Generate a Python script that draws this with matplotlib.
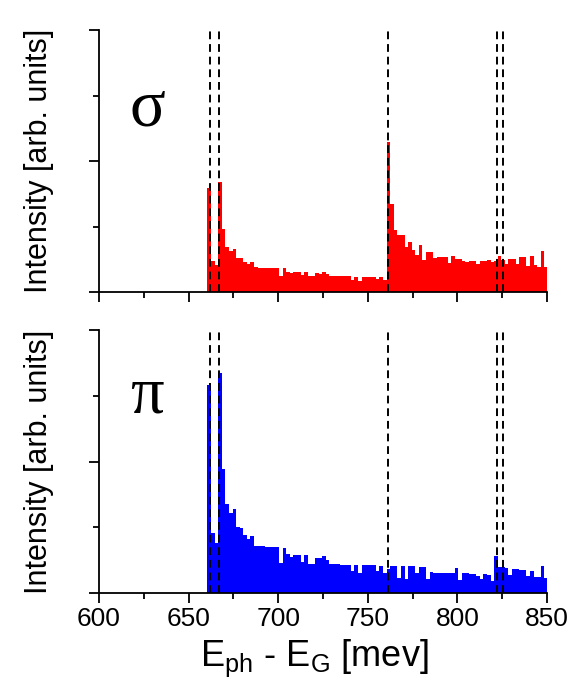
import numpy as np
import matplotlib
matplotlib.use("Agg")
import matplotlib.pyplot as plt
from matplotlib.ticker import MultipleLocator

# Histogrammes : bins de 2 meV à partir de 660.5 meV
bin_start = 660.5
bin_width = 2.0

sigma_counts = [104, 31, 27, 110, 63, 45, 41, 43, 34, 34,
                30, 28, 30, 25, 24, 24, 24, 24, 24, 24,
                16, 24, 20, 19, 20, 20, 17, 20, 16, 16,
                19, 18, 20, 18, 16, 16, 16, 16, 16, 16,
                12, 15, 11, 15, 15, 15, 15, 13, 15, 12,
                150, 88, 62, 57, 57, 45, 50, 42, 37, 47,
                32, 40, 40, 34, 35, 35, 35, 29, 36, 33,
                33, 31, 30, 31, 31, 28, 31, 31, 32, 30,
                31, 36, 32, 28, 33, 33, 28, 35, 35, 26,
                36, 27, 25, 41, 25]

pi_counts = [207, 60, 50, 219, 124, 89, 80, 84, 66, 65,
             58, 54, 57, 47, 47, 47, 46, 46, 46, 46,
             30, 45, 39, 36, 38, 38, 31, 38, 29, 29,
             35, 35, 37, 33, 29, 29, 29, 28, 28, 28,
             22, 28, 20, 28, 28, 28, 28, 22, 27, 20,
             24, 27, 27, 15, 27, 14, 27, 27, 20, 26,
             26, 14, 21, 20, 20, 20, 20, 20, 20, 25,
             13, 20, 20, 19, 19, 17, 14, 19, 18, 12,
             37, 26, 26, 25, 18, 24, 24, 23, 23, 17,
             22, 16, 16, 27, 15]

# positions des transitions (lignes pointillées)
transitions = [662.0, 667.0, 761.5, 822.0, 825.5]

x_ticks = [600, 650, 700, 750, 800, 850]
y_max = 262

plt.rcParams['font.family'] = ['Liberation Sans', 'DejaVu Sans']
plt.rcParams['mathtext.fontset'] = 'custom'
plt.rcParams['mathtext.rm'] = 'Liberation Sans'

fig = plt.figure(figsize=(5.72, 6.81), dpi=100)
ax1 = fig.add_axes([0.1731, 0.5712, 0.7832, 0.3847])
ax2 = fig.add_axes([0.1731, 0.1292, 0.7832, 0.3862])

edges = bin_start + bin_width * np.arange(len(sigma_counts))

for ax, counts, color, symbol, sy in [(ax1, sigma_counts, "#ff0000", "σ", 0.70),
                                      (ax2, pi_counts, "#0000ff", "π", 0.75)]:
    ax.bar(edges, counts, width=bin_width, align="edge", color=color, linewidth=0)
    for t in transitions:
        ax.axvline(t, color="black", linestyle=(0, (4, 2.5)), linewidth=1.4, zorder=3)
    ax.set_xlim(600, 850)
    ax.set_ylim(0, y_max)
    ax.spines['top'].set_visible(False)
    ax.spines['right'].set_visible(False)
    ax.spines['left'].set_linewidth(1.3)
    ax.spines['bottom'].set_linewidth(1.3)
    ax.set_xticks(x_ticks)
    ax.xaxis.set_minor_locator(MultipleLocator(25))
    ax.yaxis.set_major_locator(MultipleLocator(y_max / 2))
    ax.yaxis.set_minor_locator(MultipleLocator(y_max / 4))
    ax.tick_params(which="major", direction="out", length=7, width=1.3, labelsize=19, pad=3)
    ax.tick_params(which="minor", direction="out", length=4, width=1.3)
    ax.set_yticklabels([])
    ax.set_ylabel("Intensity [arb. units]", fontsize=22)
    ax.yaxis.set_label_coords(-0.10, 0.5)
    ax.text(0.107, sy, symbol, transform=ax.transAxes, fontsize=48,
            family=['Liberation Serif', 'DejaVu Serif'], ha="center", va="center")

ax1.set_xticklabels([])
ax2.set_xlabel(r"$\mathrm{E_{ph}}$ - $\mathrm{E_{G}}$ [mev]", fontsize=26)
ax2.xaxis.set_label_coords(0.48, -0.17)

plt.savefig("out.png", dpi=100)
